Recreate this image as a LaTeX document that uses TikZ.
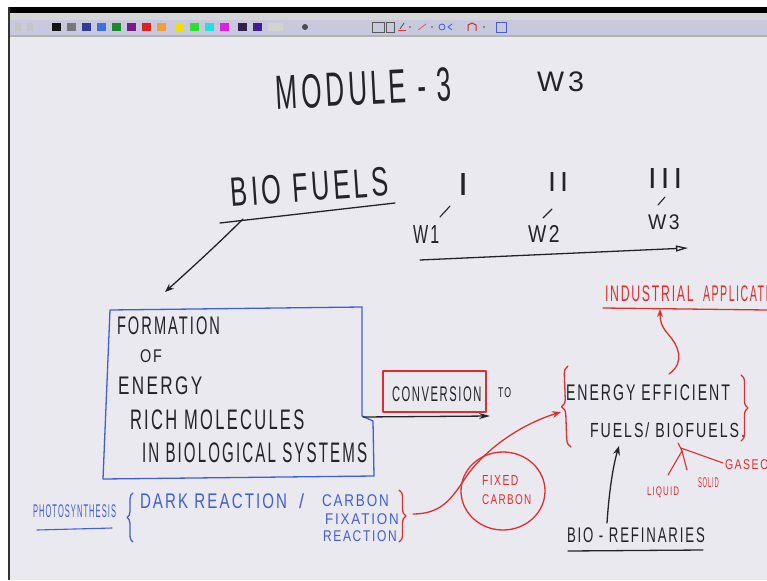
\documentclass[tikz,border=0pt]{standalone}
\usepackage{fontspec}
\setmainfont{Liberation Sans}
\usepackage{graphicx}
\usetikzlibrary{arrows.meta,decorations.pathreplacing}
\definecolor{ink}{RGB}{35,35,40}
\definecolor{bink}{RGB}{65,95,210}
\definecolor{rink}{RGB}{225,45,45}
\definecolor{bgc}{RGB}{234,233,240}
\definecolor{barc}{RGB}{214,214,216}
\definecolor{lavc}{RGB}{201,201,222}
\definecolor{swa}{RGB}{20,20,20}
\definecolor{swb}{RGB}{120,120,120}
\definecolor{swc}{RGB}{45,58,154}
\definecolor{swd}{RGB}{60,111,232}
\definecolor{swe}{RGB}{26,138,42}
\definecolor{swf}{RGB}{122,26,138}
\definecolor{swg}{RGB}{224,32,26}
\definecolor{swh}{RGB}{240,160,48}
\definecolor{swi}{RGB}{240,224,0}
\definecolor{swj}{RGB}{48,224,48}
\definecolor{swk}{RGB}{32,224,224}
\definecolor{swl}{RGB}{224,32,224}
\definecolor{swm}{RGB}{48,32,80}
\definecolor{swn}{RGB}{64,32,144}
\newcommand{\hwtext}[3]{\resizebox*{#1pt}{#2pt}{\addfontfeature{LetterSpace=14}#3\kern-0.14em}}
\begin{document}
\begin{tikzpicture}[x=1pt,y=-1pt,
  txt/.style={anchor=north west, inner sep=0pt, outer sep=0pt},
  bt/.style={txt, text=ink},
  blt/.style={txt, text=bink},
  rt/.style={txt, text=rink},
  pen/.style={draw=ink, line width=1.3pt, line cap=round, line join=round},
  bpen/.style={draw=bink, line width=1.3pt, line cap=round, line join=round},
  rpen/.style={draw=rink, line width=1.3pt, line cap=round, line join=round},
  bracedeco/.style={decorate, decoration={brace, amplitude=#1}}
]
\useasboundingbox (0,0) rectangle (767,580);
% window frame and toolbar
\fill[white] (0,0) rectangle (767,580);
\fill[bgc] (9,37) rectangle (767,580);
\fill[black] (8,7) rectangle (767,13);
\fill[barc] (9,13) rectangle (767,20);
\fill[lavc] (9,20) rectangle (767,35);
\fill[gray!60] (9,35) rectangle (767,37);
\fill[black!80] (8,7) rectangle (10,580);
% colour swatches
\foreach \xx/\cc in {52/swa, 67/swb, 82/swc, 97/swd, 112/swe, 127/swf, 142/swg,
  157/swh, 175/swi, 190/swj, 205/swk, 220/swl, 238/swm, 253/swn}
  {\fill[\cc] (\xx,23) rectangle ++(9,8);}
\fill[gray!45] (15,23) rectangle ++(6,8);
\fill[gray!45] (27,23) rectangle ++(6,8);
\fill[gray!35] (268,23) rectangle ++(15,8);
\fill[black!70] (305,27) circle (3);
% small tool icons
\draw[gray!70!black, line width=0.6pt] (372,22) rectangle (384,32);
\draw[gray!70!black, line width=0.6pt] (386,22) rectangle (394,32);
\draw[rink, line width=1pt] (398,31) -- (406,31);
\draw[gray!60!black, line width=0.8pt] (400,29) -- (404,23);
\fill[gray!60!black] (410,27) circle (0.8);
\draw[rink!80, line width=0.8pt] (418,30) -- (426,24);
\fill[gray!60!black] (432,27) circle (0.8);
\draw[bink, line width=0.8pt] (442,27) circle (3);
\draw[bink, line width=0.8pt] (452,24) -- (448,27) -- (452,30);
\draw[rink!90!black, line width=1pt] (468,31) -- (468,25) -- (472,23) -- (476,25) -- (476,31);
\fill[gray!60!black] (484,27) circle (0.8);
\draw[bink, line width=0.8pt] (496,22) rectangle (506,32);

% ---------- title ----------
\node[bt, anchor=south west, rotate=3] (module) at (277,110) {\hwtext{172}{34}{MODULE - 3}};
\node[bt] (wthree) at (537,72) {\hwtext{43}{20}{W3}};

% ---------- bio fuels & weeks ----------
\node[bt, anchor=south west, rotate=4] (biofuels) at (232,207) {\hwtext{154}{29}{BIO FUELS}};
\coordinate (bful) at (220,223);
\coordinate (bfur) at (395,203);
\draw[pen] (bful) -- (bfur);
\coordinate (bfa) at (243,219);
\coordinate (bfb) at (165,292);
\draw[pen, -{Stealth[length=9pt,width=7pt]}] (bfa) .. controls (222,240) and (195,265) .. (bfb);

\node[bt] (rI) at (458,173) {\hwtext{5}{22}{I}};
\node[bt] (rII) at (548,172) {\hwtext{16}{19}{II}};
\node[bt] (rIII) at (648,168) {\hwtext{30}{20}{III}};
\draw[pen, line width=1.1pt] (440,217) -- (450,206);
\draw[pen, line width=1.1pt] (543,218) -- (552,209);
\draw[pen, line width=1.1pt] (658,205) -- (665,197);
\node[bt] (wone) at (413,225) {\hwtext{24}{18}{W1}};
\node[bt] (wtwo) at (528,225) {\hwtext{29}{17}{W2}};
\node[bt] (wthr) at (648,215) {\hwtext{29}{15}{W3}};
\coordinate (tla) at (420,260);
\coordinate (tlb) at (688,248);
\draw[pen, -{Triangle[open,length=12pt,width=6pt]}] (tla) -- (tlb);

% ---------- blue box ----------
\draw[bpen] (110,310) -- (362,307) -- (362,416) -- (373,421) -- (374,476) -- (103,479) -- cycle;
\node[bt] (formation) at (117,317) {\hwtext{101}{18}{FORMATION}};
\node[bt] (of) at (140,350) {\hwtext{20}{13}{OF}};
\node[bt] (energy) at (118,377) {\hwtext{82}{18}{ENERGY}};
\node[bt] (rich) at (130,410) {\hwtext{172}{20}{RICH MOLECULES}};
\node[bt] (inbio) at (142,443) {\hwtext{223}{20}{IN BIOLOGICAL SYSTEMS}};

% ---------- conversion ----------
\node[bt] (conv) at (392,387) {\hwtext{88}{15}{CONVERSION}};
\draw[rpen] (383,371) rectangle (486,412);
\node[bt] (to) at (498,388) {\hwtext{12}{10}{TO}};
\coordinate (boxr) at (363,417);
\coordinate (convar) at (490,416);
\draw[pen, -{Stealth[length=11pt,width=6pt]}] (boxr) -- (convar);

% ---------- energy efficient fuels ----------
\node[bt] (enef) at (566,385) {\hwtext{162}{16}{ENERGY EFFICIENT}};
\node[bt] (fuels) at (590,423) {\hwtext{153}{15}{FUELS/ BIOFUELS.}};
\draw[rpen, bracedeco=8pt] (571,447) -- (568,366);
\draw[rpen, bracedeco=7pt] (741,375) -- (741,441);

% industrial applications
\node[rt] (indus) at (605,286) {\hwtext{87}{16}{INDUSTRIAL}};
\node[rt] (appl) at (703,286) {\hwtext{64}{16}{APPLICATI}};
\draw[rpen] (603,308) -- (767,310);
\coordinate (ia) at (669,374);
\coordinate (ib) at (660,309);
\draw[rpen, -{Stealth[length=8pt,width=6pt]}] (ia) .. controls (686,362) and (678,345) .. (668,334) .. controls (661,326) and (660,320) .. (ib);

% bio-refinaries
\node[bt] (biore) at (567,528) {\hwtext{136}{15}{BIO - REFINARIES}};
\draw[pen] (568,551) -- (703,550);
\coordinate (bra) at (607,523);
\coordinate (brb) at (619,446);
\draw[pen, -{Stealth[length=9pt,width=7pt]}] (bra) .. controls (609,492) and (613,466) .. (brb);

% states of fuel
\coordinate (st0) at (678,443);
\coordinate (st1) at (682,451);
\draw[rpen, line width=1.1pt] (st0) -- (st1) -- (668,475);
\draw[rpen, line width=1.1pt] (st1) -- (687,470);
\draw[rpen, line width=1.1pt] (681,448) -- (723,463);
\node[rt] (liquid) at (647,487) {\hwtext{31}{11}{LIQUID}};
\node[rt] (solid) at (698,478) {\hwtext{20}{10}{SOLID}};
\node[rt] (gaseo) at (725,460) {\hwtext{42}{10}{GASEO}};

% ---------- photosynthesis ----------
\node[blt] (photo) at (33,505) {\hwtext{82}{13}{PHOTOSYNTHESIS}};
\draw[bpen, line width=1.1pt] (37,530) -- (112,528);
\draw[bpen, bracedeco=6pt] (133,542) -- (133,493);
\node[blt] (dark) at (140,494) {\hwtext{145}{15}{DARK REACTION}};
\node[blt] (slash) at (299,494) {\resizebox*{5pt}{15pt}{/}};
\node[blt] (carbon) at (322,495) {\hwtext{65}{12}{CARBON}};
\node[blt] (fixation) at (325,514) {\hwtext{72}{11}{FIXATION}};
\node[blt] (reaction) at (323,531) {\hwtext{72}{11}{REACTION}};
\draw[rpen, bracedeco=7pt] (399,490) -- (399,542);

% fixed carbon
\coordinate (fca) at (413,514);
\coordinate (fcb) at (561,412);
\draw[rpen, -{Stealth[length=9pt,width=7pt]}] (fca) .. controls (442,514) and (452,498) .. (466,477) .. controls (486,448) and (522,424) .. (fcb);
\draw[rpen] (503,491) ellipse [x radius=42, y radius=39];
\node[rt] (fixed) at (482,475) {\hwtext{35}{10}{FIXED}};
\node[rt] (fcarbon) at (482,495) {\hwtext{48}{10}{CARBON}};
\end{tikzpicture}
\end{document}
